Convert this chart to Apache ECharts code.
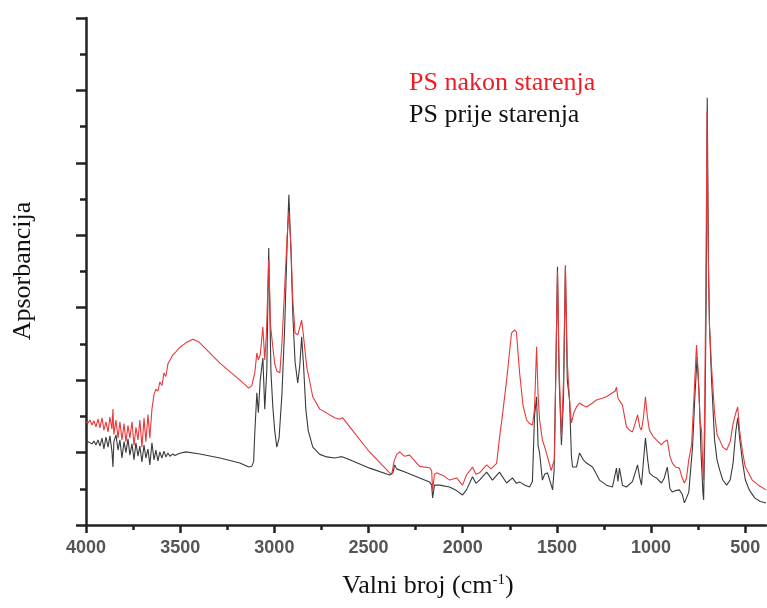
<!DOCTYPE html>
<html>
<head>
<meta charset="utf-8">
<script src="https://cdn.jsdelivr.net/npm/echarts@6/dist/echarts.min.js"></script>
<style>
  html, body { margin: 0; padding: 0; background: #fff; }
  #chart { width: 767px; height: 608px; }
</style>
</head>
<body>
<div id="chart"></div>
<script>
// FTIR spectra of polystyrene: [wavenumber (cm-1), absorbance (a.u.)]
const prijeStarenja = [
  [4000,2.35],[3989,2.30],[3979,2.35],[3968,2.24],[3958,2.32],[3947,2.21],[3936,2.35],[3926,2.18],
  [3915,2.40],[3905,2.10],[3894,2.43],[3883,2.15],[3873,2.46],[3862,2.02],[3857,1.60],[3852,2.30],
  [3841,2.49],[3830,2.07],[3820,2.35],[3809,1.85],[3798,2.30],[3788,2.00],[3777,2.38],[3767,1.93],
  [3756,2.24],[3745,1.80],[3735,2.27],[3724,1.90],[3714,2.18],[3703,1.74],[3692,2.21],[3682,1.85],
  [3671,2.10],[3661,1.66],[3650,2.27],[3639,1.80],[3629,2.07],[3618,1.77],[3608,2.02],[3597,1.85],
  [3586,2.04],[3576,1.88],[3565,1.99],[3555,1.90],[3539,1.96],[3528,1.92],[3502,1.98],[3470,2.02],
  [3395,1.96],[3289,1.85],[3183,1.71],[3136,1.60],[3120,1.62],[3110,1.75],[3104,2.54],[3093,3.65],
  [3085,3.10],[3075,4.00],[3061,4.61],[3051,3.20],[3040,4.30],[3030,7.65],[3018,4.20],[3008,3.25],
  [2998,2.60],[2987,2.15],[2975,2.40],[2960,3.60],[2945,5.50],[2932,7.80],[2923,9.12],[2912,7.60],
  [2902,5.80],[2890,4.50],[2876,3.92],[2865,4.40],[2855,5.20],[2845,4.40],[2833,3.20],[2820,2.60],
  [2796,2.15],[2759,1.95],[2722,1.88],[2680,1.85],[2653,1.88],[2637,1.88],[2600,1.80],[2494,1.57],
  [2400,1.40],[2388,1.38],[2370,1.45],[2361,1.66],[2351,1.55],[2300,1.45],[2229,1.30],[2176,1.19],
  [2165,1.10],[2160,0.75],[2150,1.10],[2123,1.10],[2070,1.05],[2033,0.95],[2001,0.83],[1980,0.97],
  [1948,1.33],[1930,1.15],[1911,1.24],[1873,1.46],[1842,1.24],[1805,1.46],[1767,1.16],[1736,1.30],
  [1715,1.15],[1698,1.19],[1670,1.10],[1645,1.05],[1630,1.20],[1619,3.00],[1608,3.54],[1600,2.20],
  [1592,1.99],[1585,1.99],[1577,1.24],[1565,1.40],[1550,1.44],[1530,1.10],[1523,0.97],[1515,1.50],
  [1505,4.50],[1497,7.13],[1488,4.00],[1476,2.21],[1465,3.50],[1455,7.13],[1445,4.00],[1433,3.45],
  [1423,1.90],[1417,1.60],[1396,1.60],[1380,1.99],[1360,1.80],[1343,1.71],[1311,1.60],[1290,1.40],
  [1274,1.24],[1237,1.10],[1205,1.05],[1184,1.57],[1176,1.20],[1168,1.57],[1152,1.10],[1131,1.05],
  [1099,1.20],[1072,1.66],[1060,1.30],[1051,1.10],[1040,1.80],[1030,2.40],[1018,1.80],[1009,1.44],
  [990,1.35],[972,1.30],[945,1.16],[930,1.30],[914,1.60],[900,1.00],[887,0.91],[870,0.95],
  [850,0.97],[835,0.85],[823,0.61],[800,0.90],[780,2.15],[768,3.50],[756,4.64],[745,3.60],
  [735,2.00],[725,0.90],[721,0.69],[715,2.50],[708,6.00],[702,11.80],[695,7.00],[690,5.50],
  [679,4.00],[663,2.35],[650,1.80],[636,1.52],[620,1.25],[599,1.10],[580,1.25],[565,1.70],
  [550,2.60],[540,2.96],[530,2.40],[516,1.80],[500,1.25],[479,0.97],[450,0.75],[420,0.65],[390,0.61]
];

const nakonStarenja = [
  [4000,2.85],[3989,2.82],[3979,2.90],[3968,2.76],[3958,2.88],[3947,2.71],[3936,2.93],[3926,2.68],
  [3915,2.96],[3905,2.62],[3894,2.85],[3883,2.57],[3873,2.98],[3862,2.65],[3857,3.20],[3852,2.50],
  [3841,2.90],[3830,2.40],[3820,2.85],[3809,2.35],[3798,2.80],[3788,2.30],[3777,2.75],[3767,2.40],
  [3756,2.85],[3745,2.20],[3735,2.70],[3724,2.35],[3714,2.90],[3703,2.15],[3692,2.95],[3682,2.30],
  [3671,3.05],[3661,2.40],[3650,3.20],[3639,3.60],[3629,3.75],[3618,3.70],[3608,3.95],[3597,3.85],
  [3586,4.20],[3576,4.10],[3565,4.45],[3555,4.40],[3539,4.70],[3528,4.75],[3507,4.88],[3470,5.03],
  [3433,5.13],[3400,5.05],[3289,4.47],[3183,4.00],[3136,3.78],[3120,3.85],[3104,4.20],[3093,4.75],
  [3085,4.56],[3075,4.70],[3061,5.47],[3051,4.56],[3042,5.30],[3030,7.32],[3020,5.50],[3008,4.90],
  [2998,4.45],[2987,4.25],[2971,4.20],[2960,5.00],[2945,6.60],[2932,8.00],[2923,8.62],[2912,7.70],
  [2902,6.20],[2890,5.30],[2876,5.25],[2868,5.20],[2855,5.66],[2845,5.20],[2828,4.36],[2810,3.90],
  [2796,3.54],[2759,3.20],[2722,3.09],[2680,2.96],[2653,2.92],[2637,2.96],[2600,2.71],[2500,2.05],
  [2388,1.44],[2377,1.40],[2365,1.75],[2351,1.95],[2335,2.02],[2310,1.90],[2282,1.93],[2229,1.62],
  [2176,1.58],[2165,1.50],[2160,0.97],[2150,1.40],[2139,1.44],[2100,1.35],[2070,1.24],[2033,1.30],
  [2001,1.10],[1980,1.38],[1948,1.60],[1930,1.40],[1911,1.44],[1873,1.66],[1850,1.55],[1820,1.70],
  [1805,2.40],[1790,3.00],[1767,4.00],[1741,5.30],[1725,5.39],[1715,5.33],[1698,4.20],[1680,3.30],
  [1661,2.90],[1645,2.80],[1630,2.76],[1619,3.20],[1608,4.92],[1600,3.60],[1592,2.90],[1577,2.35],
  [1560,2.07],[1550,1.88],[1530,1.50],[1520,1.70],[1513,1.80],[1505,4.50],[1497,7.00],[1488,4.30],
  [1476,2.43],[1465,4.00],[1455,7.18],[1445,4.50],[1433,3.45],[1423,2.82],[1410,3.10],[1396,3.26],
  [1380,3.37],[1360,3.30],[1343,3.26],[1311,3.37],[1290,3.45],[1260,3.50],[1237,3.54],[1205,3.65],
  [1190,3.70],[1184,3.81],[1176,3.50],[1168,3.45],[1152,3.31],[1131,2.71],[1110,2.60],[1099,2.57],
  [1085,2.80],[1072,3.04],[1060,2.70],[1051,2.62],[1040,3.00],[1030,3.54],[1020,3.00],[1009,2.62],
  [990,2.45],[972,2.35],[945,2.21],[930,2.30],[914,2.35],[900,1.90],[887,1.71],[870,1.60],
  [850,1.57],[835,1.30],[823,1.16],[812,1.30],[800,1.80],[785,2.21],[770,3.80],[759,4.97],
  [750,4.20],[740,2.90],[732,2.60],[725,1.50],[721,1.24],[715,3.50],[708,7.50],[703,11.41],
  [698,8.00],[690,5.50],[679,4.36],[663,3.09],[650,2.50],[636,2.35],[620,2.15],[599,2.07],
  [580,2.30],[565,2.80],[550,3.10],[540,3.26],[530,2.60],[516,2.07],[500,1.60],[479,1.40],
  [463,1.24],[430,1.10],[390,0.97]
];

// labelled ticks on the wavenumber axis and the short ticks in between
const majorTicks = [4000, 3500, 3000, 2500, 2000, 1500, 1000, 500];
const minorTicks = [3750, 3250, 2750, 2250, 1750, 1250, 750];

const X_MIN = 390, X_MAX = 4000;
const serif = "'Liberation Serif', 'Times New Roman', serif";
const sans = "'Liberation Sans', Arial, sans-serif";

const chart = echarts.init(document.getElementById('chart'), null, { renderer: 'canvas' });

chart.setOption({
  animation: false,
  backgroundColor: '#ffffff',
  grid: { left: 86, top: 18, right: 1, bottom: 83, containLabel: false },
  xAxis: [
    {
      type: 'value', min: X_MIN, max: X_MAX, inverse: true,
      axisLine: { show: true, onZero: false, lineStyle: { color: '#222', width: 2.5 } },
      axisTick: { show: true, customValues: majorTicks, length: 8, lineStyle: { color: '#222', width: 2.5 } },
      axisLabel: {
        show: true, customValues: majorTicks, margin: 14,
        formatter: function (v) { return String(Math.round(v)); },
        fontFamily: sans, fontSize: 18, fontWeight: 'bold', color: '#555'
      },
      splitLine: { show: false }
    },
    {
      type: 'value', min: X_MIN, max: X_MAX, inverse: true, position: 'bottom',
      axisLine: { show: false },
      axisTick: { show: true, customValues: minorTicks, length: 5, lineStyle: { color: '#222', width: 2.5 } },
      axisLabel: { show: false },
      splitLine: { show: false }
    }
  ],
  yAxis: {
    type: 'value', min: 0, max: 14, interval: 2,
    axisLine: { show: true, lineStyle: { color: '#222', width: 2.5 } },
    axisTick: { show: true, length: 10, lineStyle: { color: '#222', width: 2.5 } },
    minorTick: { show: true, splitNumber: 2, length: 6, lineStyle: { color: '#222', width: 2.5 } },
    axisLabel: { show: false },
    splitLine: { show: false },
    minorSplitLine: { show: false }
  },
  series: [
    {
      name: 'PS prije starenja', type: 'line', xAxisIndex: 0,
      data: prijeStarenja, showSymbol: false, symbol: 'none',
      lineStyle: { color: '#3a3a3a', width: 1.1 }
    },
    {
      name: 'PS nakon starenja', type: 'line', xAxisIndex: 0,
      data: nakonStarenja, showSymbol: false, symbol: 'none',
      lineStyle: { color: '#e8393a', width: 1.1 }
    }
  ],
  graphic: [
    {
      type: 'text', left: 409, top: 70,
      style: { text: 'PS nakon starenja', fill: '#ee1c24', font: '26px ' + serif }
    },
    {
      type: 'text', left: 409, top: 102,
      style: { text: 'PS prije starenja', fill: '#111', font: '26px ' + serif }
    },
    {
      type: 'text', x: 23, y: 271, rotation: Math.PI / 2,
      style: {
        text: 'Apsorbancija', fill: '#111', font: '26px ' + serif,
        align: 'center', verticalAlign: 'middle'
      }
    },
    {
      type: 'text', x: 428, y: 586,
      style: {
        text: '{n|Valni broj (cm}{s|-1}{n|)}',
        align: 'center', verticalAlign: 'middle',
        rich: {
          n: { fontFamily: serif, fontSize: 26, fill: '#111', lineHeight: 30 },
          s: { fontFamily: serif, fontSize: 15, fill: '#111', lineHeight: 30, verticalAlign: 'top', padding: [2, 0, 0, 0] }
        }
      }
    }
  ]
});
</script>
</body>
</html>
